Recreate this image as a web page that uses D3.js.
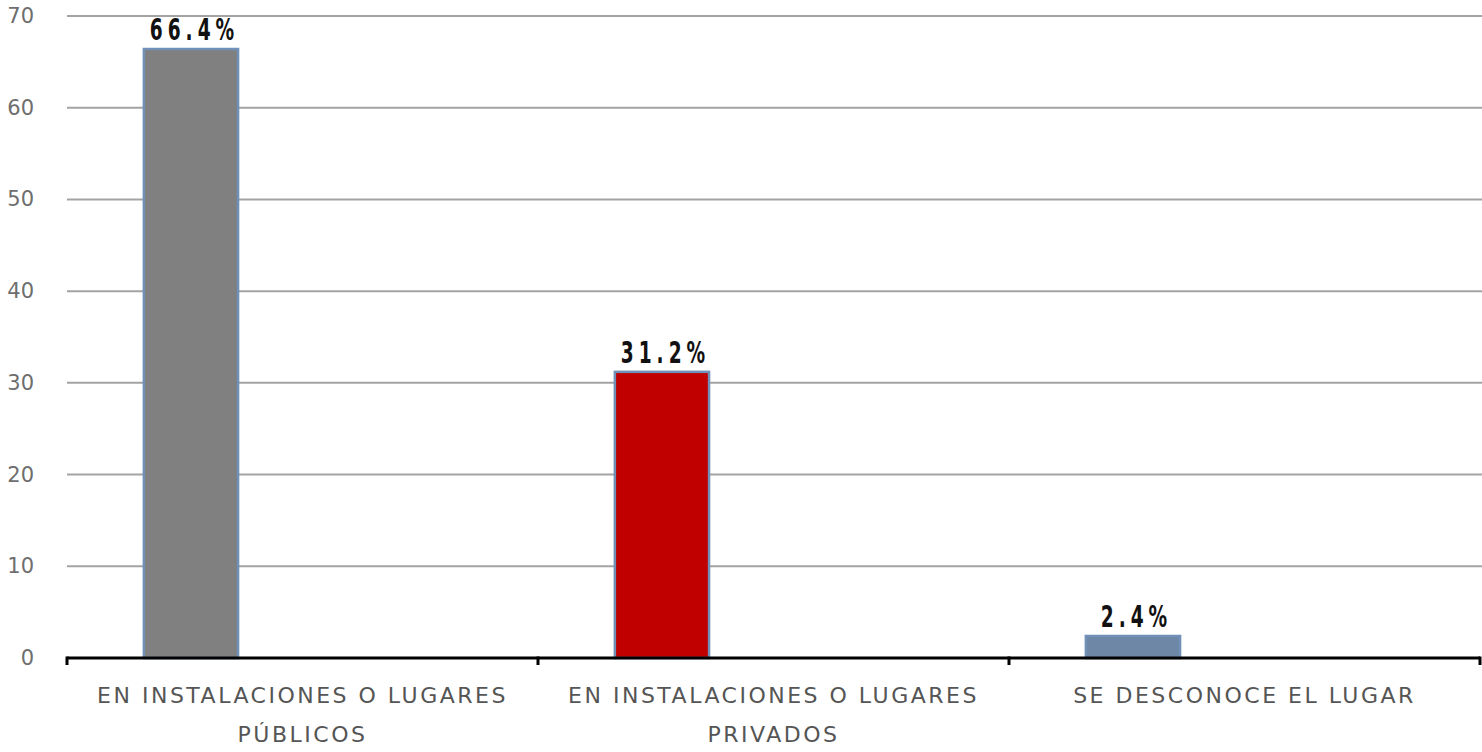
<!DOCTYPE html>
<html>
<head>
<meta charset="utf-8">
<script src="https://cdn.jsdelivr.net/npm/d3@7/dist/d3.min.js"></script>
<style>
  body { margin: 0; background: #fff; }
  .tick-y text { font-family: "DejaVu Sans", sans-serif; font-size: 21px; fill: #6e6e6e; }
  .cat { font-family: "DejaVu Sans", sans-serif; font-size: 22px; fill: #555; letter-spacing: 2.5px; }
  .val { font-family: "DejaVu Sans", sans-serif; font-weight: bold; font-size: 30px; fill: #111; letter-spacing: 8px; }
</style>
</head>
<body>
<svg class="chart"></svg>
<script>
var categories = [["EN INSTALACIONES O LUGARES", "PÚBLICOS"], ["EN INSTALACIONES O LUGARES", "PRIVADOS"], ["SE DESCONOCE EL LUGAR"]]
var values = [66.4, 31.2, 2.4]
var valueLabels = ["66.4%", "31.2%", "2.4%"]
var barColors = ["#808080", "#c00000", "#6f87a6"]
var yTicks = [0, 10, 20, 30, 40, 50, 60, 70]

var width = 1482, height = 752
var margin = {top: 16, right: 2, bottom: 94, left: 67}

var chart = d3.select(".chart").attr("width", width).attr("height", height)

var ids = categories.map(function(d, i) { return i })

var y = d3.scaleLinear().domain([0, 70]).range([height - margin.bottom, margin.top])

// category slots (axis ticks / labels)
var xCat = d3.scaleBand().domain(ids).range([margin.left, width - margin.right]).padding(0)
// bar positions inside each slot
var xBar = d3.scaleBand().domain(ids).range([margin.left, width - margin.right])
  .paddingInner(0.8).paddingOuter(0.4).align(0.204)

// gridlines
chart.append("g").selectAll("line")
  .data(yTicks.filter(function(t) { return t > 0 }))
  .enter().append("line")
    .attr("x1", margin.left).attr("x2", width)
    .attr("y1", function(d) { return y(d) }).attr("y2", function(d) { return y(d) })
    .attr("stroke", "#a3a3a3").attr("stroke-width", 2)

// y labels
chart.append("g").attr("class", "tick-y").selectAll("text")
  .data(yTicks)
  .enter().append("text")
    .attr("x", 34).attr("y", function(d) { return y(d) + 7 })
    .attr("text-anchor", "end")
    .text(function(d) { return d })

// bars
chart.append("g").selectAll("rect")
  .data(values)
  .enter().append("rect")
    .attr("x", function(d, i) { return xBar(i) })
    .attr("y", function(d) { return y(d) })
    .attr("width", xBar.bandwidth())
    .attr("height", function(d) { return y(0) - y(d) })
    .attr("fill", function(d, i) { return barColors[i] })
    .attr("stroke", "#7090b8").attr("stroke-width", 2.5)

// value labels (narrow, spaced)
chart.append("g").selectAll("text")
  .data(values)
  .enter().append("text")
    .attr("class", "val")
    .attr("transform", function(d, i) {
      return "translate(" + (xBar(i) + xBar.bandwidth() / 2 + 3.5) + "," + (y(d) - 9) + ") scale(0.62,1)"
    })
    .attr("text-anchor", "middle")
    .text(function(d, i) { return valueLabels[i] })

// x axis
var xAxis = d3.axisBottom(xCat).tickSize(0).tickFormat("")
var ax = chart.append("g").attr("transform", "translate(0," + y(0) + ")").call(xAxis)
ax.select(".domain").remove()
ax.append("line").attr("x1", margin.left).attr("x2", width - margin.right)
  .attr("stroke", "#000").attr("stroke-width", 3)
var bounds = ids.map(function(i) { return xCat(i) }).concat([width - margin.right])
ax.selectAll(".bound").data(bounds).enter().append("line")
  .attr("x1", function(d) { return d }).attr("x2", function(d) { return d })
  .attr("y1", -1.5).attr("y2", 7)
  .attr("stroke", "#000").attr("stroke-width", 3)

// category labels
var cat = chart.append("g").selectAll("text")
  .data(categories)
  .enter().append("text")
    .attr("class", "cat")
    .attr("text-anchor", "middle")
    .attr("x", function(d, i) { return xCat(i) + xCat.bandwidth() / 2 })
    .attr("y", 703)
cat.selectAll("tspan")
  .data(function(d) { return d })
  .enter().append("tspan")
    .attr("x", function() { return d3.select(this.parentNode).attr("x") })
    .attr("dy", function(d, j) { return j === 0 ? 0 : 39 })
    .text(function(d) { return d })
</script>
</body>
</html>
